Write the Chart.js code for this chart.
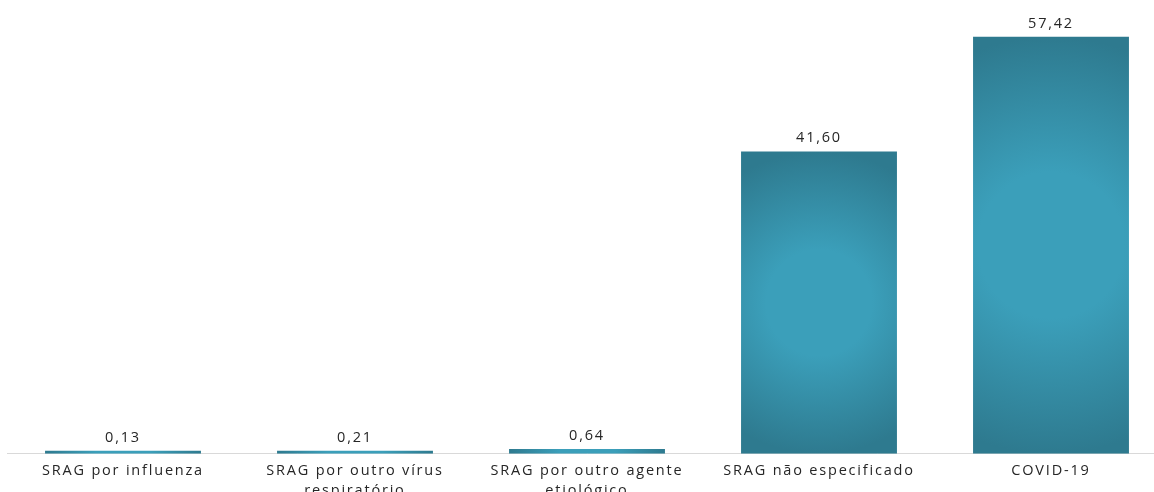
<!DOCTYPE html>
<html>
<head>
<meta charset="utf-8">
<script src="https://cdn.jsdelivr.net/npm/chart.js@4.4.0/dist/chart.umd.min.js"></script>
<style>
  html, body { margin: 0; padding: 0; background: #fff; overflow: hidden; }
  #wrap { position: relative; width: 1167px; height: 500px; }
</style>
</head>
<body>
<div id="wrap"><canvas id="myChart"></canvas></div>
<script>
// categorias e valores (%)
const categories = [
    'SRAG por influenza',
    ['SRAG por outro vírus', 'respiratório'],
    ['SRAG por outro agente', 'etiológico'],
    'SRAG não especificado',
    'COVID-19'
];
const values = [0.13, 0.21, 0.64, 41.60, 57.42];

const darkTeal = '#2e7a8f';
const lightTeal = '#3b9fba';

// gradiente radial por barra
function barGradient(context) {
    const chart = context.chart;
    const area = chart.chartArea;
    if (!area || context.dataIndex === undefined) return darkTeal;
    const xs = chart.scales.x, ys = chart.scales.y;
    const cx = xs.getPixelForValue(context.dataIndex);
    const top = Math.min(ys.getPixelForValue(values[context.dataIndex]), area.bottom - 3);
    const cy = (top + area.bottom) / 2;
    const hw = (area.width / categories.length) * 0.672 / 2;
    const hh = (area.bottom - top) / 2;
    const r = Math.max(hw, hh);
    const g = chart.ctx.createRadialGradient(cx, cy, 0, cx, cy, r);
    g.addColorStop(0, lightTeal);
    g.addColorStop(0.35, lightTeal);
    g.addColorStop(1, darkTeal);
    return g;
}

// espaçamento de letras como no original
const spacing = {
    id: 'spacing',
    beforeUpdate(chart) { chart.ctx.letterSpacing = '1.8px'; },
    beforeDraw(chart) { chart.ctx.letterSpacing = '1.8px'; }
};

const valueLabels = {
    id: 'valueLabels',
    afterDatasetsDraw(chart) {
        const ctx = chart.ctx;
        const meta = chart.getDatasetMeta(0);
        ctx.save();
        ctx.letterSpacing = '1.8px';
        ctx.font = '14.5px "Open Sans"';
        ctx.fillStyle = '#262626';
        ctx.textAlign = 'center';
        ctx.textBaseline = 'bottom';
        meta.data.forEach((bar, i) => {
            ctx.fillText(values[i].toFixed(2).replace('.', ','), bar.x, bar.y - 6);
        });
        ctx.restore();
    }
};

const ctx = document.getElementById('myChart').getContext('2d');

new Chart(ctx, {
    type: 'bar',
    data: {
        labels: categories,
        datasets: [{
            data: values,
            backgroundColor: barGradient,
            borderWidth: 0,
            minBarLength: 3,
            categoryPercentage: 0.672,
            barPercentage: 1
        }]
    },
    plugins: [spacing, valueLabels],
    options: {
        responsive: true,
        maintainAspectRatio: false,
        animation: false,
        layout: { padding: { left: 7, right: 0, top: 18, bottom: 0 } },
        plugins: {
            legend: { display: false },
            tooltip: { enabled: false }
        },
        scales: {
            x: {
                grid: { display: false },
                border: { display: true, color: '#d9d9d9', width: 1 },
                ticks: {
                    color: '#262626',
                    font: { family: '"Open Sans"', size: 14.5, lineHeight: 1.32 },
                    padding: 0,
                    maxRotation: 0,
                    autoSkip: false
                }
            },
            y: {
                display: false,
                min: 0,
                max: 60
            }
        }
    }
});
</script>
</body>
</html>
